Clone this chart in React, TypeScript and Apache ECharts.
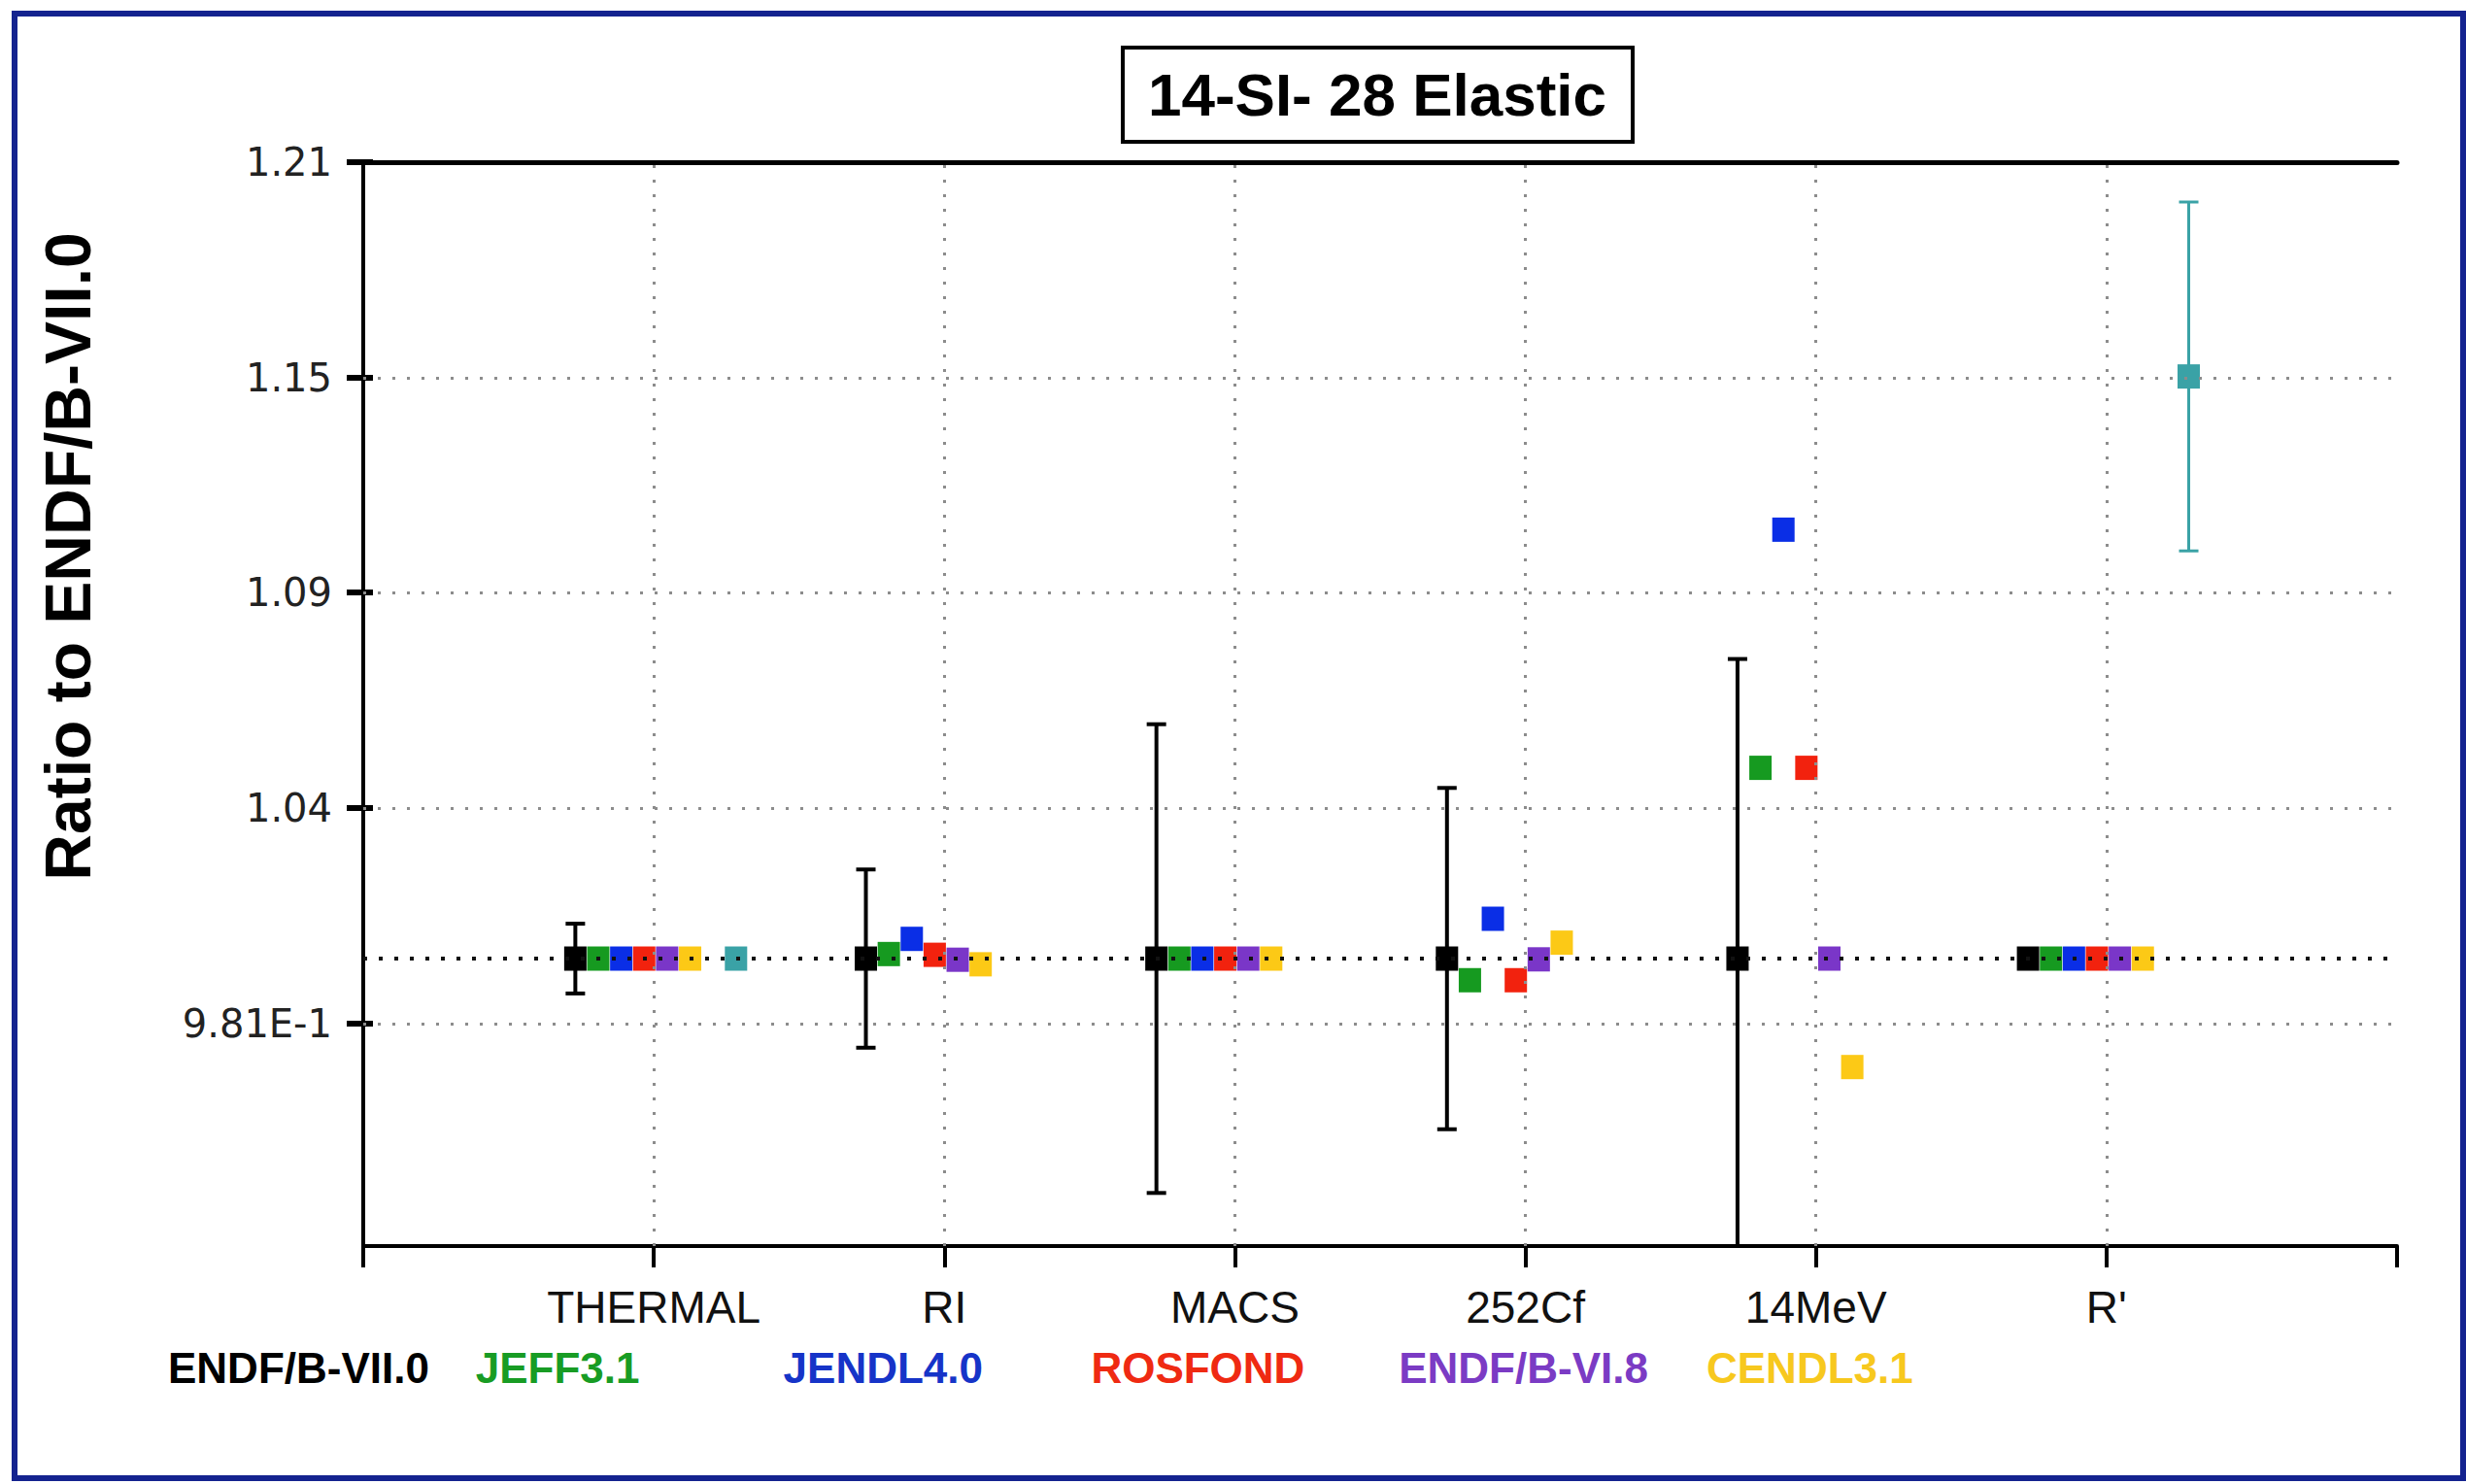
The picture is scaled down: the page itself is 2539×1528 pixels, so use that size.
import React, { useEffect, useRef } from "react";
import * as echarts from "echarts";

const CATEGORIES = ["THERMAL", "RI", "MACS", "252Cf", "14MeV", "R'"];
const LIBRARIES = ["ENDF/B-VII.0", "JEFF3.1", "JENDL4.0", "ROSFOND", "ENDF/B-VI.8", "CENDL3.1"];

const ENDF_B_VII_0 = [1.0, 1.0, 1.0, 1.0, 1.0, 1.0];
const ENDF_B_VII_0_ERR = [0.0092, 0.0235, 0.0618, 0.045, 0.079, 0];
const JEFF_3_1 = [1.0, 1.0012, 1.0, 0.9943, 1.0503, 1.0];
const JENDL_4_0 = [1.0, 1.0052, 1.0, 1.0105, 1.1131, 1.0];
const ROSFOND = [1.0, 1.001, 1.0, 0.9943, 1.0503, 1.0];
const ENDF_B_VI_8 = [1.0, 0.9997, 1.0, 0.9998, 1.0, 1.0];
const CENDL_3_1 = [1.0, 0.9985, 1.0, 1.0042, 0.9714, 1.0];
const EXPERIMENT = [1.0, null, null, null, null, 1.1535];
const EXPERIMENT_ERR = [0, null, null, null, null, 0.046];

const Y_TICK_VALUES = [0.9828, 1.0397, 1.0965, 1.1532, 1.21];
const Y_TICK_LABELS = ["9.81E-1", "1.04", "1.09", "1.15", "1.21"];
const Y_MIN = 0.9242;
const Y_MAX = 1.21;
const REFERENCE_RATIO = 1.0;

const LIB_VALUES = [ENDF_B_VII_0, JEFF_3_1, JENDL_4_0, ROSFOND, ENDF_B_VI_8, CENDL_3_1];
const LIB_COLORS = ["#000000", "#169a20", "#0a2ee6", "#f2220e", "#7a36c8", "#fcc916"];
const LEGEND_COLORS = ["#000000", "#189c24", "#1634c8", "#ef2a12", "#7b3bc4", "#f7c81e"];
const EXP_COLOR = "#3aa2a6";

const SLOT_START = -0.27;
const SLOT_STEP = 0.079;
const EXP_SLOT = 7;
const xPos = (catIdx: number, slot: number) => catIdx + 1 + SLOT_START + slot * SLOT_STEP;

const SANS = "'Liberation Sans', Arial, Helvetica, sans-serif";
const WIDE = "'DejaVu Sans', Verdana, sans-serif";

function errorSeries(name: string, vals: (number | null)[], errs: (number | null)[], slot: number, color: string, lw: number) {
  const data: number[][] = [];
  vals.forEach((v, i) => {
    const e = errs[i];
    if (v != null && e != null && e > 0) data.push([xPos(i, slot), v, e]);
  });
  return {
    name,
    type: "custom",
    z: 2,
    silent: true,
    data,
    encode: { x: 0, y: 1 },
    renderItem: (params: any, api: any) => {
      const x = api.value(0);
      const y = api.value(1);
      const e = api.value(2);
      const hi = Math.min(y + e, Y_MAX);
      const lo = y - e;
      const loClamped = Math.max(lo, Y_MIN);
      const pTop = api.coord([x, hi]);
      const pBot = api.coord([x, loClamped]);
      const cap = 10;
      const style = { stroke: color, lineWidth: lw };
      const children: any[] = [
        { type: "line", shape: { x1: pTop[0], y1: pTop[1], x2: pBot[0], y2: pBot[1] }, style },
        { type: "line", shape: { x1: pTop[0] - cap, y1: pTop[1], x2: pTop[0] + cap, y2: pTop[1] }, style },
      ];
      if (lo >= Y_MIN) {
        children.push({ type: "line", shape: { x1: pBot[0] - cap, y1: pBot[1], x2: pBot[0] + cap, y2: pBot[1] }, style });
      }
      return { type: "group", children };
    },
  };
}

function scatterSeries(name: string, vals: (number | null)[], slot: number, color: string) {
  const data: number[][] = [];
  vals.forEach((v, i) => {
    if (v != null) data.push([xPos(i, slot), v]);
  });
  return {
    name,
    type: "scatter",
    z: 3,
    symbol: "rect",
    symbolSize: [23, 25],
    itemStyle: { color, opacity: 1 },
    data,
  };
}

export default function App() {
  const ref = useRef<HTMLDivElement>(null);
  useEffect(() => {
    if (!ref.current) return;
    const chart = echarts.init(ref.current, undefined, { renderer: "svg" });

    const fmtY = (v: number) => {
      let best = 0;
      Y_TICK_VALUES.forEach((t, i) => {
        if (Math.abs(t - v) < Math.abs(Y_TICK_VALUES[best] - v)) best = i;
      });
      return Y_TICK_LABELS[best];
    };

    const series: any[] = [
      {
        name: "grid",
        type: "line",
        data: [],
        silent: true,
        z: 1,
        markLine: {
          silent: true,
          precision: 6,
          symbol: ["none", "none"],
          label: { show: false },
          lineStyle: { color: "#8c8c8c", width: 3, type: [3, 12] },
          data: [
            ...CATEGORIES.map((_, i) => ({ xAxis: i + 1 })),
            ...Y_TICK_VALUES.slice(0, 4).map((v) => ({ yAxis: v })),
          ],
        },
      },
      {
        name: "reference",
        type: "line",
        data: [],
        silent: true,
        z: 1,
        markLine: {
          silent: true,
          precision: 6,
          symbol: ["none", "none"],
          label: { show: false },
          lineStyle: { color: "#111111", width: 4, type: [4, 12] },
          data: [{ yAxis: REFERENCE_RATIO }],
        },
      },
      errorSeries("ENDF/B-VII.0 uncertainty", ENDF_B_VII_0, ENDF_B_VII_0_ERR, 0, "#000000", 4),
      errorSeries("Experiment uncertainty", EXPERIMENT, EXPERIMENT_ERR, EXP_SLOT, EXP_COLOR, 3),
      ...LIBRARIES.map((name, i) => scatterSeries(name, LIB_VALUES[i], i, LIB_COLORS[i])),
      scatterSeries("Experiment", EXPERIMENT, EXP_SLOT, EXP_COLOR),
    ];

    const legends = LIBRARIES.map((name, i) => ({
      data: [name],
      left: 168 + i * 316.8,
      top: 1386,
      padding: 0,
      itemWidth: 0,
      itemHeight: 0,
      selectedMode: false,
      textStyle: { color: LEGEND_COLORS[i], fontSize: 44, fontWeight: "bold", fontFamily: SANS },
    }));

    chart.setOption({
      animation: false,
      backgroundColor: "#ffffff",
      grid: { left: 374, top: 167, width: 2094, height: 1116, containLabel: false },
      xAxis: [
        {
          type: "value",
          min: 0,
          max: 7,
          interval: 1,
          position: "bottom",
          axisLine: { show: true, lineStyle: { color: "#000", width: 4 } },
          axisTick: { show: true, length: 22, lineStyle: { color: "#000", width: 4 } },
          axisLabel: {
            show: true,
            margin: 40,
            color: "#111",
            fontSize: 46,
            fontFamily: SANS,
            formatter: (v: number) => (v >= 1 && v <= CATEGORIES.length ? CATEGORIES[Math.round(v) - 1] : ""),
          },
          splitLine: { show: false },
        },
        {
          type: "value",
          min: 0,
          max: 7,
          position: "top",
          axisLine: { show: true, lineStyle: { color: "#000", width: 5 } },
          axisTick: { show: false },
          axisLabel: { show: false },
          splitLine: { show: false },
        },
      ],
      yAxis: [
        {
          type: "value",
          min: Y_MIN,
          max: Y_MAX,
          position: "left",
          axisLine: { show: true, lineStyle: { color: "#000", width: 4 } },
          axisTick: { show: true, length: 17, customValues: Y_TICK_VALUES, lineStyle: { color: "#000", width: 6 } },
          axisLabel: {
            show: true,
            customValues: Y_TICK_VALUES,
            margin: 32,
            color: "#222",
            fontSize: 40,
            fontFamily: WIDE,
            formatter: fmtY,
          },
          splitLine: { show: false },
        },
        {
          type: "value",
          min: Y_MIN,
          max: Y_MAX,
          position: "left",
          axisLine: { show: false },
          axisTick: { show: true, inside: true, length: 10, customValues: Y_TICK_VALUES, lineStyle: { color: "#000", width: 6 } },
          axisLabel: { show: false },
          splitLine: { show: false },
        },
      ],
      legend: legends,
      graphic: [
        {
          type: "rect",
          shape: { x: 15, y: 14, width: 2521, height: 1508 },
          style: { fill: "none", stroke: "#14238f", lineWidth: 6 },
          silent: true,
        },
        {
          type: "rect",
          shape: { x: 1156, y: 49, width: 525, height: 97 },
          style: { fill: "#ffffff", stroke: "#000000", lineWidth: 4 },
          silent: true,
        },
        {
          type: "text",
          x: 1418,
          y: 97,
          style: {
            text: "14-SI- 28 Elastic",
            fill: "#000",
            font: `bold 62px ${SANS}`,
            textAlign: "center",
            textVerticalAlign: "middle",
          },
          silent: true,
        },
        {
          type: "text",
          x: 70,
          y: 573,
          rotation: Math.PI / 2,
          style: {
            text: "Ratio to ENDF/B-VII.0",
            fill: "#000",
            font: `bold 66px ${SANS}`,
            textAlign: "center",
            textVerticalAlign: "middle",
          },
          silent: true,
        },
      ],
      series,
    });

    return () => chart.dispose();
  }, []);

  return (
    <div
      ref={ref}
      style={{ position: "fixed", left: 0, top: 0, width: 2539, height: 1528, background: "#fff" }}
    />
  );
}
